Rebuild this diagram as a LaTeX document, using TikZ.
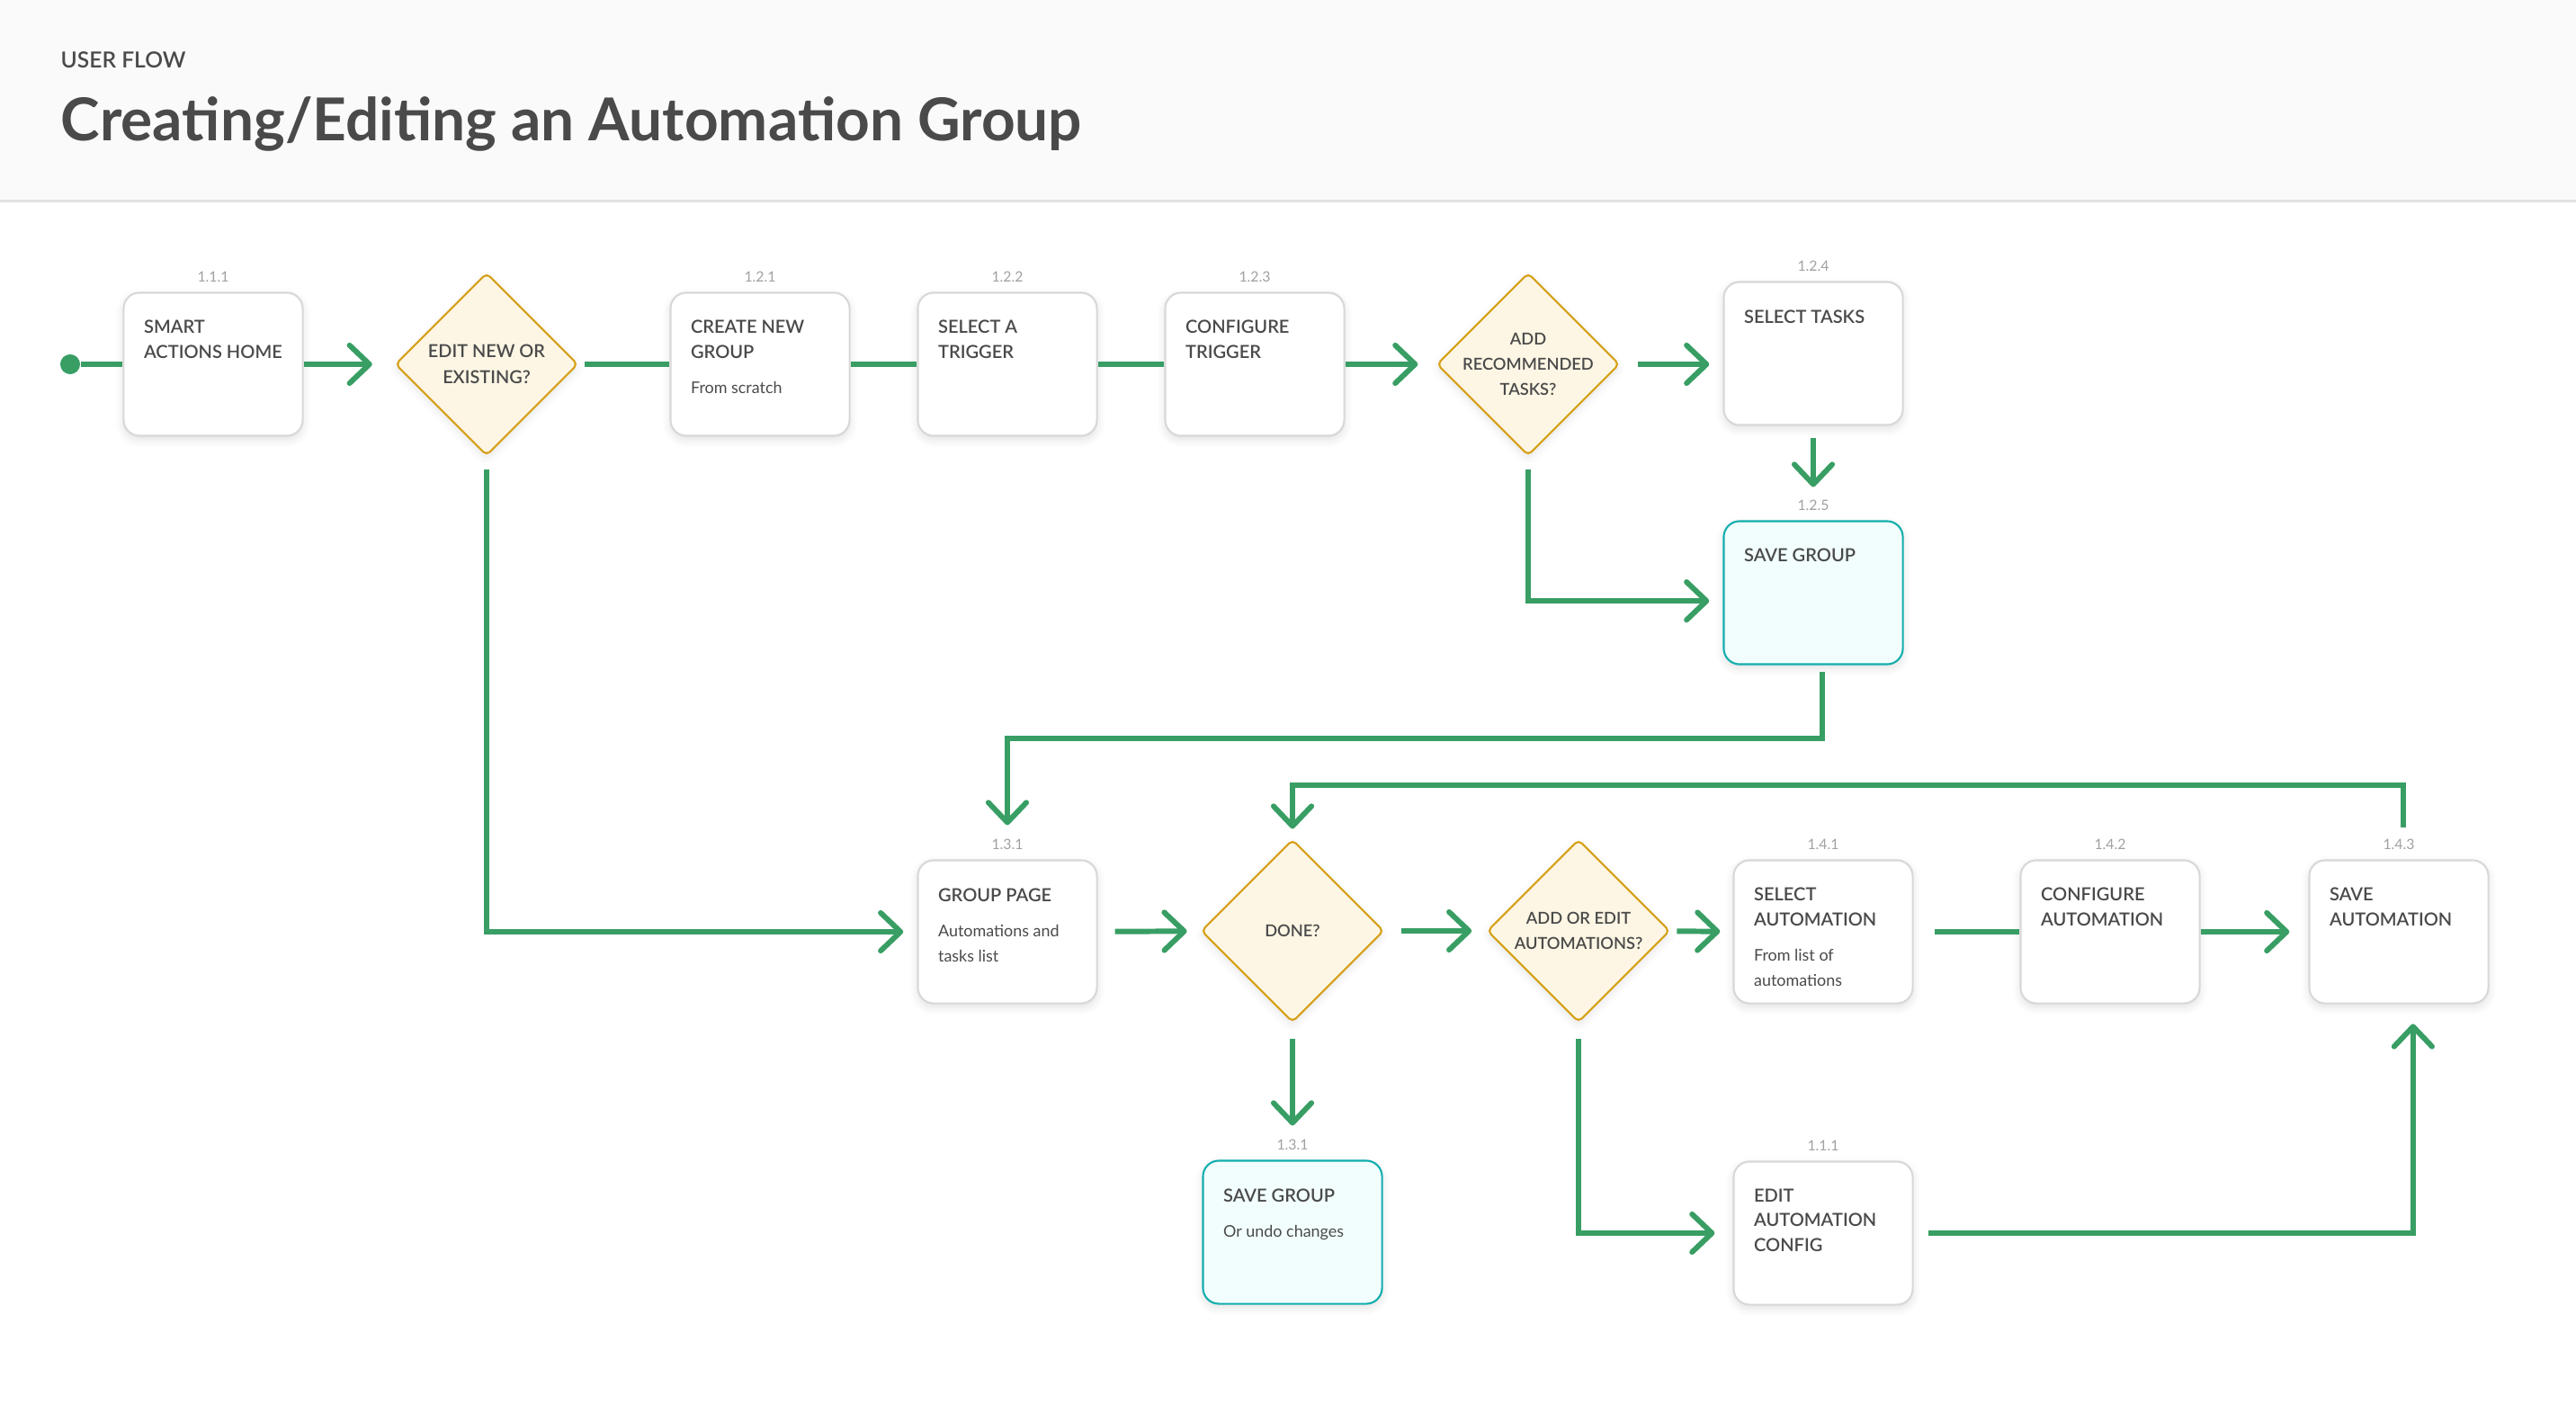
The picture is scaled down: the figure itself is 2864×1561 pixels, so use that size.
\documentclass[tikz,border=0pt]{standalone}
\usepackage{fontspec}
\setmainfont{Lato}
\IfFontExistsTF{Lato Semibold}{\newfontfamily\semifont{Lato Semibold}}{\newcommand\semifont{\bfseries}}
\usetikzlibrary{shapes.geometric,arrows.meta,shadows.blur}

\definecolor{flowgreen}{RGB}{56,158,100}
\definecolor{txt}{RGB}{74,74,74}
\definecolor{numgray}{RGB}{160,160,160}
\definecolor{boxline}{RGB}{216,216,216}
\definecolor{tealline}{RGB}{20,174,174}
\definecolor{tealfill}{RGB}{242,254,254}
\definecolor{goldline}{RGB}{214,160,24}
\definecolor{goldfill}{RGB}{253,246,228}
\definecolor{hdrbg}{RGB}{250,250,250}
\definecolor{hdrline}{RGB}{226,226,226}

\begin{document}
\begin{tikzpicture}[x=0.01cm, y=-0.01cm,
  flow/.style={draw=flowgreen, line width=1.7pt},
  arr/.style={flow, -{Straight Barb[length=6.3pt,width=12pt,round]}},
  box/.style={draw=boxline, line width=0.6pt, fill=white, rounded corners=5pt,
    minimum width=1.99cm, minimum height=1.59cm, inner sep=0pt,
    blur shadow={shadow xshift=0pt, shadow yshift=-1.2pt, shadow blur radius=2.5pt, shadow opacity=12}},
  endbox/.style={box, draw=tealline, fill=tealfill},
  decision/.style={diamond, draw=goldline, fill=goldfill, line width=0.6pt, rounded corners=1.5pt,
    minimum width=2.03cm, minimum height=2.03cm, inner sep=0pt,
    blur shadow={shadow xshift=0pt, shadow yshift=-1.2pt, shadow blur radius=2.5pt, shadow opacity=10}},
  head/.style={anchor=north west, inner sep=0pt, align=left, text=txt, font=\semifont\fontsize{5.7}{7.8}\selectfont},
  note/.style={anchor=north west, inner sep=0pt, align=left, text=txt, font=\fontsize{5.1}{7.9}\selectfont},
  ask/.style={inner sep=0pt, align=center, text=txt, font=\semifont\fontsize{5.2}{8}\selectfont},
  num/.style={label distance=2.8pt, inner sep=0pt, text=numgray, font=\fontsize{4.5}{5}\selectfont},
  dot/.style={circle, fill=flowgreen, minimum size=0.22cm, inner sep=0pt}
]

\useasboundingbox (0,0) rectangle (2864,1561);

%Header
\fill[hdrbg] (0,0) rectangle (2864,222);
\fill[hdrline] (0,222) rectangle (2864,225);
\node[anchor=base west, inner sep=0pt, text=txt, font=\semifont\fontsize{7}{8}\selectfont] (kicker) at (67,76) {USER FLOW};
\node[anchor=base west, inner sep=0pt, text=txt, font=\bfseries\fontsize{18.7}{21}\selectfont] (headline) at (67,157) {Creating/Editing an Automation Group};

%First row
\node[dot] (start) at (78,405) {};
\node[box, label={[num]above:1.1.1}] (home) at (237,405) {};
\node[decision] (editq) at (541,405) {};
\node[box, label={[num]above:1.2.1}] (newgrp) at (845,405) {};
\node[box, label={[num]above:1.2.2}] (trig) at (1120,405) {};
\node[box, label={[num]above:1.2.3}] (conftrig) at (1395,405) {};
\node[decision] (recq) at (1699,405) {};
\node[box, label={[num]above:1.2.4}] (tasks) at (2016,393) {};
\node[endbox, label={[num]above:1.2.5}] (savegrp) at (2016,659) {};

\node[head] (home-t) at ([shift={(23,31)}]home.north west) {SMART\\ACTIONS HOME};
\node[ask, font=\semifont\fontsize{5.65}{8.1}\selectfont] (editq-t) at (editq) {EDIT NEW OR\\EXISTING?};
\node[head] (newgrp-t) at ([shift={(23,31)}]newgrp.north west) {CREATE NEW\\GROUP};
\node[note] (newgrp-n) at ([shift={(23,99)}]newgrp.north west) {From scratch};
\node[head] (trig-t) at ([shift={(23,31)}]trig.north west) {SELECT A\\TRIGGER};
\node[head] (conftrig-t) at ([shift={(23,31)}]conftrig.north west) {CONFIGURE\\TRIGGER};
\node[ask] (recq-t) at (recq) {ADD\\RECOMMENDED\\TASKS?};
\node[head] (tasks-t) at ([shift={(23,32)}]tasks.north west) {SELECT TASKS};
\node[head] (savegrp-t) at ([shift={(23,31)}]savegrp.north west) {SAVE GROUP};

%Second row
\node[box, label={[num]above:1.3.1}] (grouppage) at (1120,1036) {};
\node[decision] (doneq) at (1437,1035) {};
\node[decision] (autoq) at (1755,1035) {};
\node[box, label={[num]above:1.4.1}] (selauto) at (2027,1036) {};
\node[box, label={[num]above:1.4.2}] (confauto) at (2346,1036) {};
\node[box, label={[num]above:1.4.3}] (saveauto) at (2667,1036) {};
\node[endbox, label={[num]above:1.3.1}] (savechg) at (1437,1370) {};
\node[box, label={[num]above:1.1.1}] (editcfg) at (2027,1371) {};

\node[head] (grouppage-t) at ([shift={(23,32)}]grouppage.north west) {GROUP PAGE};
\node[note] (grouppage-n) at ([shift={(23,72)}]grouppage.north west) {Automations and\\tasks list};
\node[ask] (doneq-t) at (doneq) {DONE?};
\node[ask] (autoq-t) at (autoq) {ADD OR EDIT\\AUTOMATIONS?};
\node[head] (selauto-t) at ([shift={(23,31)}]selauto.north west) {SELECT\\AUTOMATION};
\node[note] (selauto-n) at ([shift={(23,99)}]selauto.north west) {From list of\\automations};
\node[head] (confauto-t) at ([shift={(23,31)}]confauto.north west) {CONFIGURE\\AUTOMATION};
\node[head] (saveauto-t) at ([shift={(23,31)}]saveauto.north west) {SAVE\\AUTOMATION};
\node[head] (savechg-t) at ([shift={(23,32)}]savechg.north west) {SAVE GROUP};
\node[note] (savechg-n) at ([shift={(23,72)}]savechg.north west) {Or undo changes};
\node[head] (editcfg-t) at ([shift={(23,31)}]editcfg.north west) {EDIT\\AUTOMATION\\CONFIG};

%Connectors
\draw[flow] (start) -- (home);
\draw[arr, shorten >=7pt] (home) -- (editq);
\draw[flow, shorten <=1.7pt] (editq) -- (newgrp);
\draw[flow] (newgrp) -- (trig);
\draw[flow] (trig) -- (conftrig);
\draw[arr, shorten >=5.7pt] (conftrig) -- (recq);
\draw[arr, shorten <=5.4pt, shorten >=4.3pt] (recq.east) -- (recq.east -| tasks.west);
\draw[arr, shorten <=3.7pt, shorten >=10.5pt] (tasks) -- (savegrp);
\draw[arr, shorten <=4pt, shorten >=4.3pt] (recq.south) |- ([yshift=-2.6pt]savegrp.west);
\draw[arr, shorten >=10.8pt] ([xshift=2.8pt,yshift=-2pt]savegrp.south) -- ++(0,74) -| (grouppage.north);
\draw[arr, shorten <=4pt, shorten >=4.3pt] (editq.south) |- (grouppage.west);

\draw[arr, shorten <=5.4pt, shorten >=4.3pt] (grouppage) -- (doneq);
\draw[arr, shorten <=5.1pt, shorten >=4.6pt] (doneq) -- (autoq);
\draw[arr, shorten <=2pt, shorten >=4pt] (autoq) -- (selauto);
\draw[flow, shorten <=6.5pt] (selauto) -- (confauto);
\draw[arr, shorten >=6pt] (confauto) -- (saveauto);
\draw[arr, shorten >=3.1pt] ([xshift=1.4pt,yshift=10.2pt]saveauto.north) -- ++(0,-47) -| (doneq.north);
\draw[arr, shorten <=4.8pt, shorten >=10.8pt] (doneq) -- (savechg);
\draw[arr, shorten <=4.8pt, shorten >=5.7pt] (autoq.south) |- (editcfg.west);
\draw[arr, shorten <=4.6pt, shorten >=6.2pt] (editcfg.east) -| ([xshift=4.5pt]saveauto.south);

\end{tikzpicture}
\end{document}
